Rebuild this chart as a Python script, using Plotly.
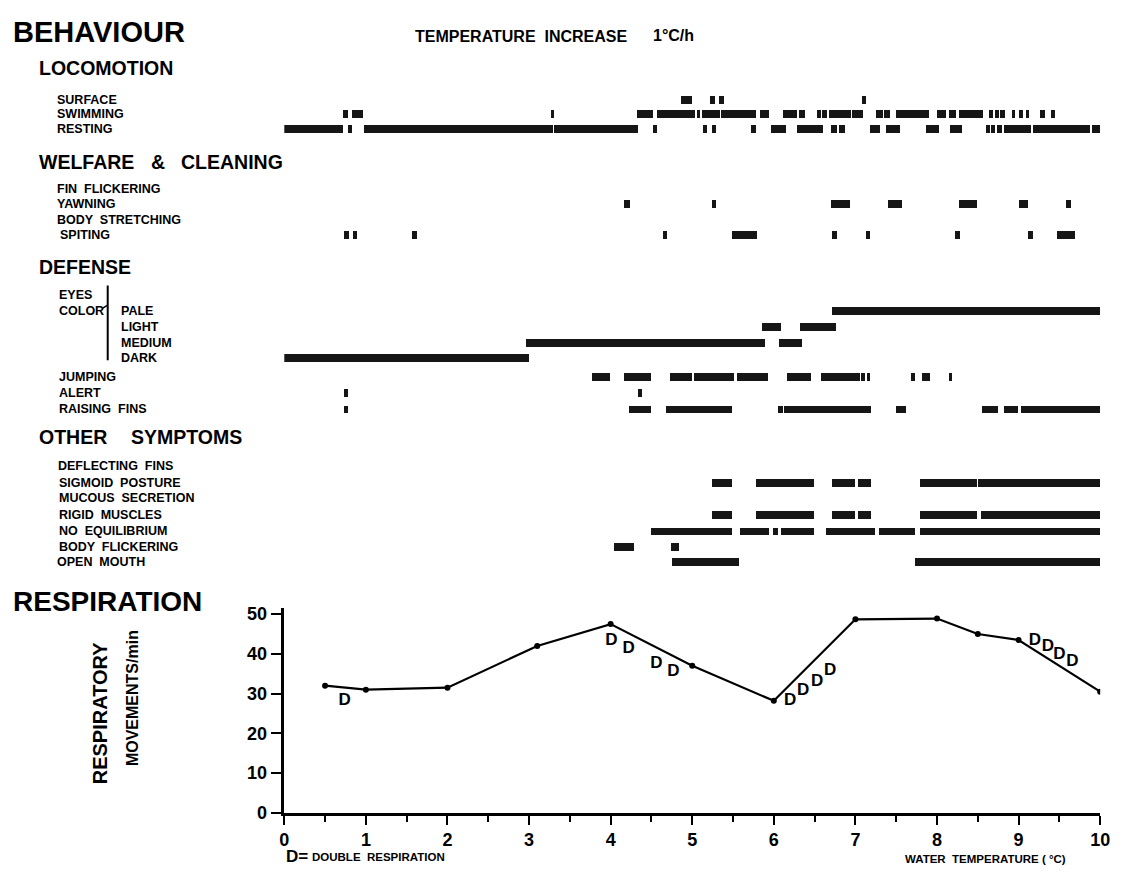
import plotly.graph_objects as go

# ---------------- data (temperature increase, degC) ----------------
TEMP_TICKS = [0, 1, 2, 3, 4, 5, 6, 7, 8, 9, 10]
RESP_TEMP = [0.5, 1, 2, 3.1, 4, 5, 6, 7, 8, 8.5, 9, 10]
RESP_RATE = [32, 31, 31.5, 42, 47.5, 37, 28.2, 48.7, 48.9, 45, 43.5, 30.5]
DOUBLE_TEMP = [0.74, 4.01, 4.22, 4.56, 4.77, 6.2, 6.36, 6.53, 6.69, 9.2, 9.36, 9.5, 9.66]
DOUBLE_RATE = [28.3, 43.2, 41.2, 37.5, 35.5, 28.3, 30.8, 33.0, 35.7, 43.2, 41.9, 39.7, 37.9]

SURFACE = [[4.87, 5.0], [5.22, 5.28], [5.33, 5.39], [7.08, 7.13]]
SWIMMING = [[0.72, 0.78], [0.83, 0.97], [3.27, 3.31], [4.33, 4.52], [4.57, 5.04], [5.06, 5.1],
            [5.12, 5.35], [5.36, 5.79], [5.83, 5.95], [6.12, 6.29], [6.31, 6.38], [6.53, 6.58],
            [6.6, 6.65], [6.68, 6.95], [6.96, 7.1], [7.26, 7.34], [7.36, 7.43], [7.5, 7.9],
            [8.0, 8.12], [8.15, 8.24], [8.27, 8.57], [8.64, 8.69], [8.71, 8.76], [8.78, 8.84],
            [8.92, 8.96], [9.01, 9.06], [9.09, 9.13], [9.27, 9.33], [9.4, 9.45]]
RESTING = [[0.0, 0.72], [0.78, 0.83], [0.98, 3.3], [3.31, 4.34], [4.52, 4.57], [5.13, 5.19],
           [5.24, 5.3], [5.72, 5.78], [5.97, 6.15], [6.29, 6.61], [6.71, 6.78], [6.8, 6.88],
           [7.18, 7.3], [7.38, 7.55], [7.87, 8.03], [8.16, 8.31], [8.6, 8.65], [8.67, 8.72],
           [8.74, 8.8], [8.83, 9.15], [9.18, 9.88], [9.9, 10.0]]
FIN_FLICKERING = []
YAWNING = [[4.17, 4.24], [5.24, 5.3], [6.71, 6.94], [7.4, 7.58], [8.27, 8.49], [9.01, 9.12], [9.58, 9.64]]
BODY_STRETCHING = []
SPITING = [[0.73, 0.8], [0.84, 0.9], [1.57, 1.63], [4.64, 4.7], [5.49, 5.8], [6.72, 6.78],
           [7.13, 7.18], [8.22, 8.28], [9.12, 9.18], [9.48, 9.7]]
PALE = [[6.72, 10.0]]
LIGHT = [[5.86, 6.09], [6.32, 6.76]]
MEDIUM = [[2.97, 5.89], [6.07, 6.35]]
DARK = [[0.0, 3.0]]
JUMPING = [[3.78, 3.99], [4.17, 4.5], [4.73, 5.0], [5.02, 5.52], [5.55, 5.93], [6.17, 6.46],
           [6.58, 7.06], [7.07, 7.12], [7.14, 7.18], [7.68, 7.74], [7.82, 7.92], [8.15, 8.19]]
ALERT = [[0.74, 0.79], [4.34, 4.39]]
RAISING_FINS = [[0.74, 0.79], [4.23, 4.5], [4.68, 5.49], [6.05, 6.11], [6.13, 7.19], [7.5, 7.62],
                [8.55, 8.75], [8.83, 9.0], [9.03, 10.0]]
DEFLECTING_FINS = []
SIGMOID_POSTURE = [[5.24, 5.49], [5.79, 6.49], [6.72, 7.0], [7.04, 7.19], [7.79, 8.49], [8.51, 10.0]]
MUCOUS_SECRETION = []
RIGID_MUSCLES = [[5.24, 5.49], [5.78, 6.49], [6.72, 7.0], [7.03, 7.19], [7.79, 8.49], [8.54, 10.0]]
NO_EQUILIBRIUM = [[4.5, 5.49], [5.59, 5.95], [5.99, 6.05], [6.09, 6.49], [6.64, 7.24], [7.29, 7.74],
                  [7.79, 10.0]]
BODY_FLICKERING = [[4.04, 4.29], [4.74, 4.84]]
OPEN_MOUTH = [[4.75, 5.58], [7.74, 10.0]]

# ---------------- layout helpers (page pixel positions) ----------------
OFF = 8                      # default page margin around the plot div
W, H = 1123 - OFF, 874 - OFF
X0, X1 = 283, 1110
INK = "#161616"
FONT = "Liberation Sans"


def px(x):
    return (x - OFF) / W


def py(y):
    return 1 - (y - OFF) / H


# row label, data, label x (px), row y (px)
ROWS = [
    ("SURFACE", SURFACE, 51, 97),
    ("SWIMMING", SWIMMING, 51, 112),
    ("RESTING", RESTING, 51, 127),
    ("FIN  FLICKERING", FIN_FLICKERING, 51, 188),
    ("YAWNING", YAWNING, 51, 203),
    ("BODY  STRETCHING", BODY_STRETCHING, 51, 219),
    ("SPITING", SPITING, 54, 235),
    ("PALE", PALE, 115, 312),
    ("LIGHT", LIGHT, 115, 328),
    ("MEDIUM", MEDIUM, 115, 344),
    ("DARK", DARK, 115, 360),
    ("JUMPING", JUMPING, 53, 379),
    ("ALERT", ALERT, 53, 395),
    ("RAISING  FINS", RAISING_FINS, 53, 412),
    ("DEFLECTING  FINS", DEFLECTING_FINS, 52, 469),
    ("SIGMOID  POSTURE", SIGMOID_POSTURE, 53, 487),
    ("MUCOUS  SECRETION", MUCOUS_SECRETION, 53, 502),
    ("RIGID  MUSCLES", RIGID_MUSCLES, 53, 519),
    ("NO  EQUILIBRIUM", NO_EQUILIBRIUM, 53, 536),
    ("BODY  FLICKERING", BODY_FLICKERING, 53, 552),
    ("OPEN  MOUTH", OPEN_MOUTH, 51, 567),
]

fig = go.Figure()

# ethogram bars
for label, segs, lx, ry in ROWS:
    if not segs:
        continue
    fig.add_trace(go.Bar(
        orientation="h",
        base=[s for s, e in segs],
        x=[e - s for s, e in segs],
        y=[ry] * len(segs),
        width=8,
        marker=dict(color=INK, line=dict(width=0)),
        xaxis="x", yaxis="y", showlegend=False, hoverinfo="skip",
    ))

# respiration line
fig.add_trace(go.Scatter(
    x=RESP_TEMP, y=RESP_RATE, mode="lines+markers",
    line=dict(color="black", width=2.2), marker=dict(color="black", size=6),
    xaxis="x2", yaxis="y2", showlegend=False,
))
fig.add_trace(go.Scatter(
    x=DOUBLE_TEMP, y=DOUBLE_RATE, mode="text", text=["D"] * len(DOUBLE_TEMP),
    textfont=dict(family=FONT, size=17, color="black", weight="bold"),
    xaxis="x2", yaxis="y2", showlegend=False,
))

ann = []


def text(t, x, y, size, anchor="left", angle=0):
    ann.append(dict(text=t, x=px(x), y=py(y), xref="paper", yref="paper",
                    xanchor=anchor, yanchor="middle", showarrow=False, textangle=angle,
                    font=dict(family=FONT, size=size, color="black", weight="bold")))


text("BEHAVIOUR", 6, 28, 29)
text("TEMPERATURE  INCREASE", 413, 33, 16)
text("1°C/h", 655, 32, 16)
text("LOCOMOTION", 32, 65, 19.5)
text("WELFARE", 32, 160, 19.5)
text("&", 146, 160, 19.5)
text("CLEANING", 176, 160, 19.5)
text("DEFENSE", 32, 267, 19.5)
text("OTHER", 32, 440, 19.5)
text("SYMPTOMS", 126, 440, 19.5)
text("RESPIRATION", 6, 607, 28)
text("EYES", 53, 296, 12.5)
text("COLOR", 53, 312, 12.5)
for label, segs, lx, ry in ROWS:
    text(label, lx, ry, 12.5)

text("RESPIRATORY", 97, 720, 20, "center", -90)
text("MOVEMENTS/min", 129, 705, 16, "center", -90)
text("D=", 283, 866, 17)
text("DOUBLE  RESPIRATION", 309, 867, 11.5)
text("WATER  TEMPERATURE ( °C)", 910, 869, 11.5)

shapes = [
    dict(type="line", xref="paper", yref="paper", x0=px(104), x1=px(104), y0=py(286), y1=py(362),
         line=dict(color="black", width=2)),
    dict(type="line", xref="paper", yref="paper", x0=px(99), x1=px(104), y0=py(309), y1=py(306),
         line=dict(color="black", width=1.5)),
]

fig.update_layout(
    width=W, height=H, margin=dict(l=0, r=0, t=0, b=0),
    paper_bgcolor="white", plot_bgcolor="rgba(0,0,0,0)",
    barmode="overlay", bargap=0,
    annotations=ann, shapes=shapes,
    xaxis=dict(domain=[px(X0), px(X1)], range=[0, 10], visible=False, anchor="y"),
    yaxis=dict(domain=[py(600), py(OFF)], range=[600, OFF], visible=False, anchor="x"),
    xaxis2=dict(domain=[px(X0), px(X1)], range=[0, 10], anchor="y2",
                tickvals=TEMP_TICKS, ticktext=[str(t) for t in TEMP_TICKS],
                ticks="outside", ticklen=9, tickwidth=2, tickcolor="black",
                showline=True, linecolor="black", linewidth=2.5, showgrid=False, zeroline=False,
                tickfont=dict(family=FONT, size=18, color="black", weight="bold"),
                minor=dict(dtick=0.5, tick0=0, ticks="outside", ticklen=6, tickwidth=1.5,
                           tickcolor="black", showgrid=False)),
    yaxis2=dict(domain=[py(822), py(614)], range=[0, 51.5], anchor="x2",
                tickvals=[0, 10, 20, 30, 40, 50], ticks="outside", ticklen=11, tickwidth=2,
                tickcolor="black", showline=True, linecolor="black", linewidth=2.5,
                showgrid=False, zeroline=False,
                tickfont=dict(family=FONT, size=18, color="black", weight="bold")),
)

fig.write_html("out.html")
